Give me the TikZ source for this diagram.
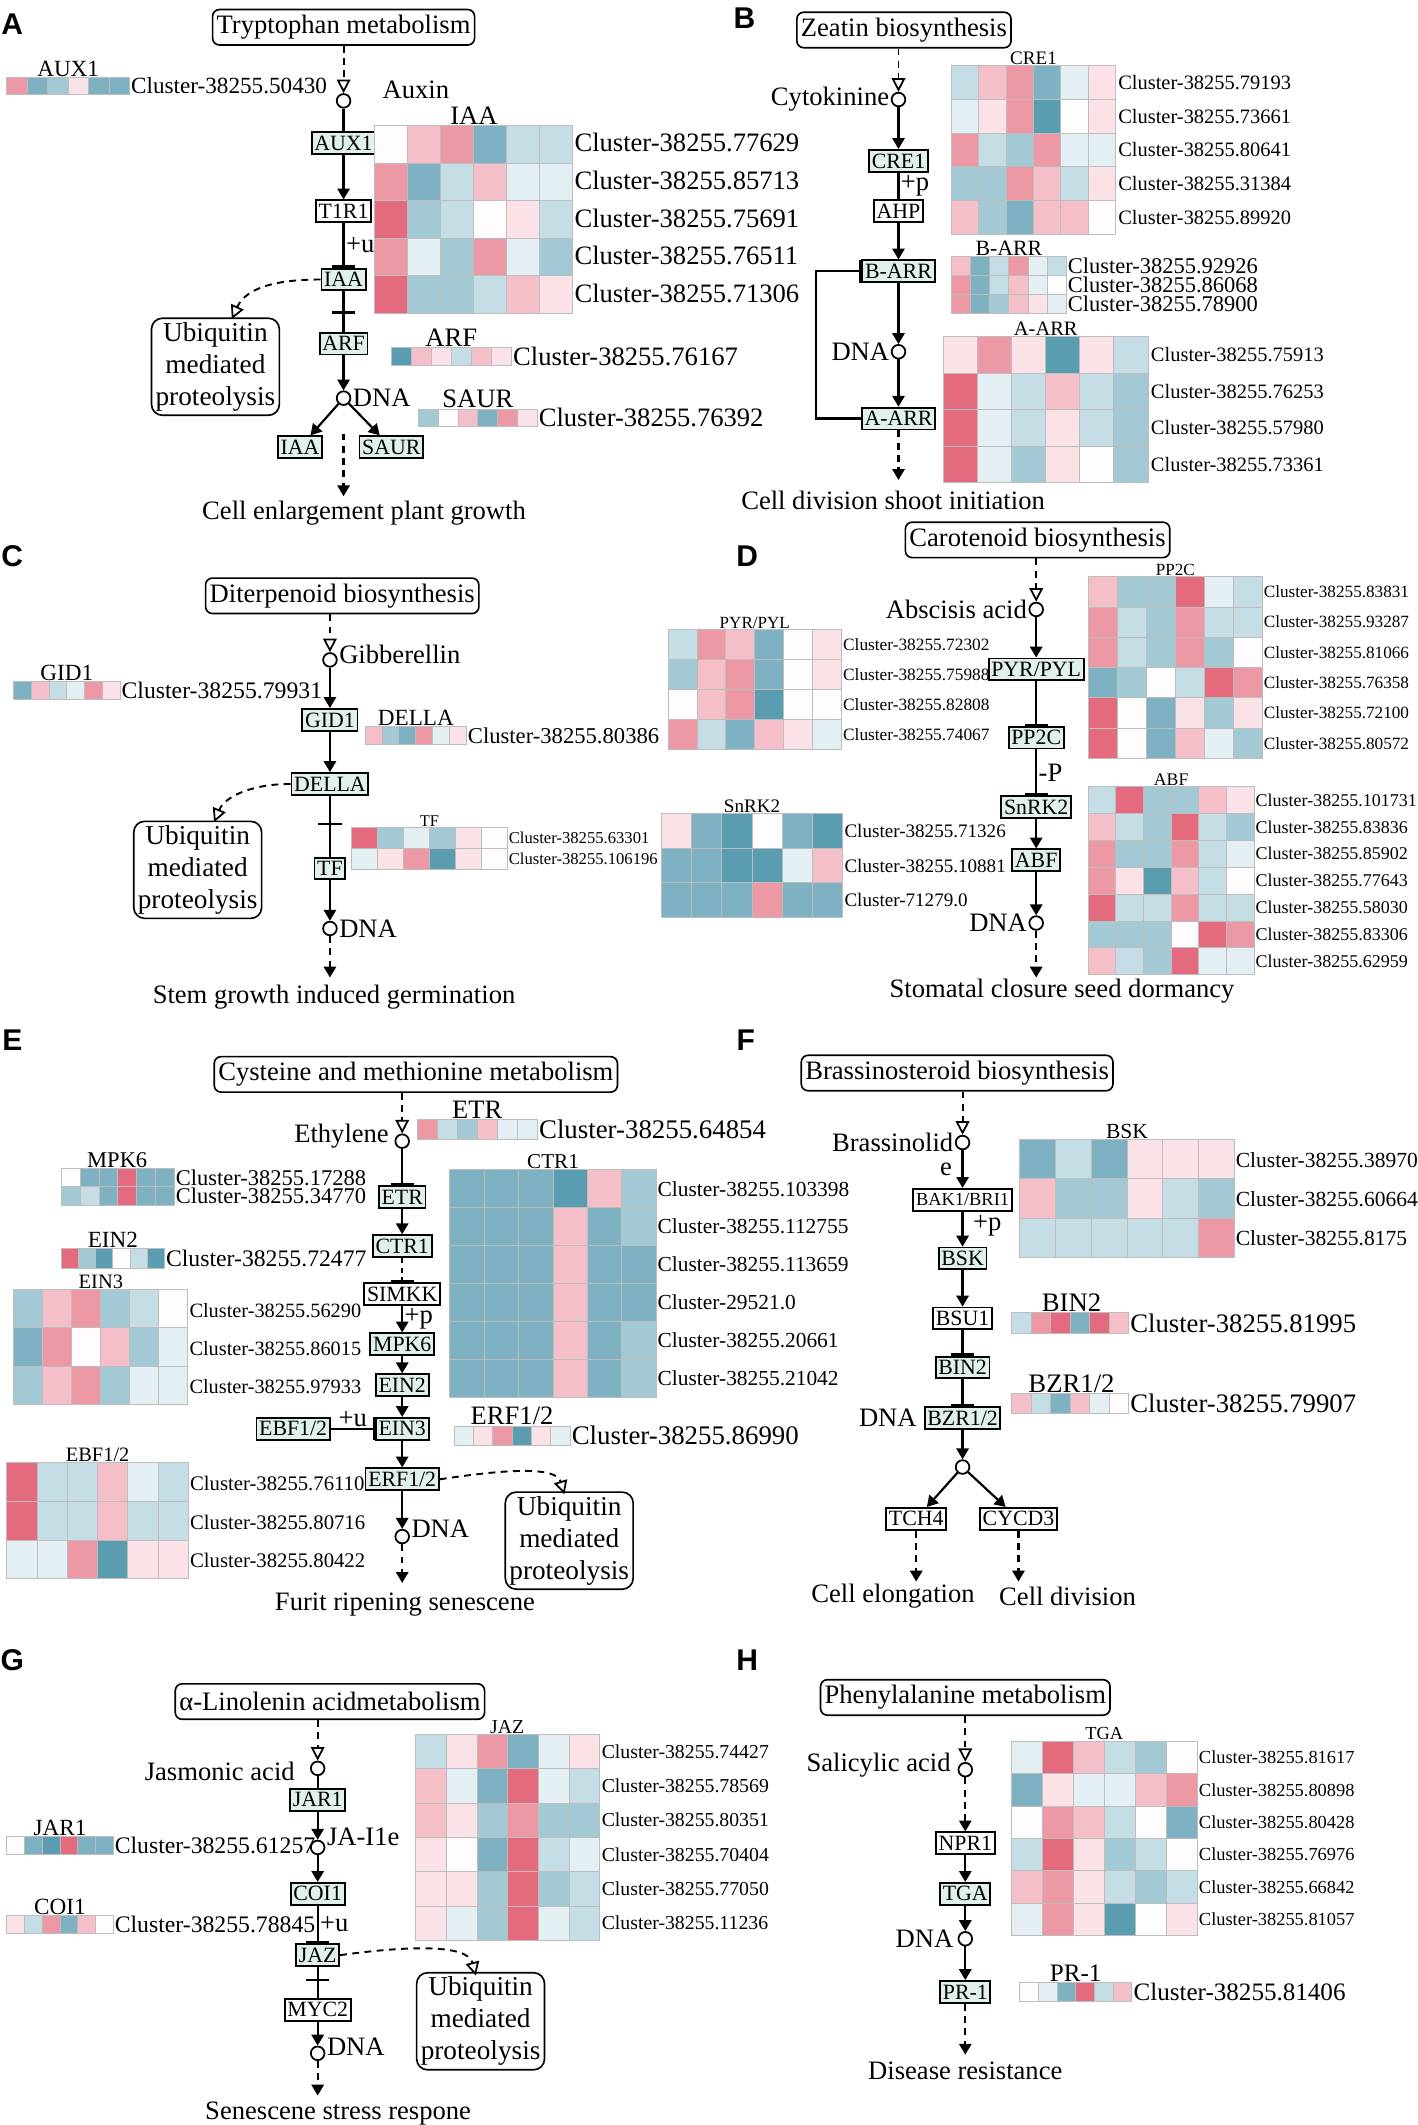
\documentclass[tikz,border=0pt]{standalone}
\usepackage{fontspec}
\setmainfont{Liberation Serif}
\newfontfamily\panelfont{Liberation Sans}
\usetikzlibrary{arrows.meta,positioning,calc}
\definecolor{mint}{HTML}{DFF1EA}
\definecolor{r3}{HTML}{E36B7D}
\definecolor{r2}{HTML}{EC98A5}
\definecolor{r1}{HTML}{F4BFC9}
\definecolor{r0}{HTML}{FBE2E7}
\definecolor{wh}{HTML}{FEFCFC}
\definecolor{b0}{HTML}{E3EFF3}
\definecolor{b1}{HTML}{C5DDE4}
\definecolor{b2}{HTML}{A3C9D4}
\definecolor{b3}{HTML}{7EB2C2}
\definecolor{b4}{HTML}{5A9CB0}
\definecolor{cellline}{HTML}{BDBDBD}
\newcommand\fs[1]{\fontsize{#1}{#1}\selectfont}
% one heatmap: x, y (top left), cell width, cell height, rows of colours
\newcommand\heatmap[5]{%
  \foreach \hrow [count=\j from 0] in {#5} {%
    \foreach \hc [count=\i from 0] in \hrow {%
      \path[hcell, fill=\hc] ({#1+\i*#3},{#2+\j*#4}) rectangle ++(#3,#4);
    }%
  }%
}
% cluster names beside a heatmap: x, y of first row, row step, size, name, ids
\newcommand\clusters[6]{%
  \foreach \id [count=\k] in {#6}
    \node[clab, font=\fs{#4}] (#5\k) at ({#1},{#2+(\k-1)*#3}) {Cluster-\id};
}
\tikzset{
  gene/.style={draw, line width=1.4pt, fill=mint, font=\fs{16}, inner xsep=2pt, inner ysep=0.5pt, minimum height=16pt},
  genew/.style={gene, fill=white},
  pathway/.style={draw, rounded corners=5pt, line width=1.2pt, font=\fs{19.5}, inner xsep=3pt, minimum height=26pt},
  ubq/.style={draw, rounded corners=8pt, line width=1.2pt, align=center, font=\fontsize{20}{23.5}\selectfont, inner sep=3pt},
  met/.style={circle, draw, line width=1.3pt, minimum size=10pt, inner sep=0pt, fill=white},
  link/.style={line width=1.6pt},
  actarr/.style={link, -{Triangle[length=8pt,width=9pt]}},
  inharr/.style={link, -{Bar[width=17pt,line width=1.6pt]}},
  flowarr/.style={link, dash pattern=on 5pt off 4pt, -{Triangle[length=8pt,width=9pt]}},
  feedarr/.style={line width=1.4pt, dash pattern=on 5pt off 4pt, -{Triangle[open,length=10pt,width=10pt,line width=1.3pt]}},
  hcell/.style={draw=cellline, line width=0.7pt},
  clab/.style={anchor=west, inner sep=1pt},
  hlab/.style={anchor=south, inner sep=0.5pt},
  txt/.style={font=\fs{19.5}, inner sep=1pt},
  panel/.style={font=\panelfont\bfseries\fs{22}, inner sep=0pt}
}
\begin{document}
\begin{tikzpicture}[x=1pt, y=-1pt]
\useasboundingbox (0,0) rectangle (1040,1558.6);
\fill[white] (0,0) rectangle (1040,1558.6);

% A
\node[panel] (labA) at (9,18) {A};
\node[pathway] (trp) at (252,20) {Tryptophan metabolism};
\node[met] (auxin) at (252,74) {};
\node[txt] (auxinl) at (305,66) {Auxin};
\node[gene] (aux1) at (252,105) {AUX1};
\node[genew] (tir1) at (252,155) {T1R1};
\node[gene] (iaa) at (252,205) {IAA};
\coordinate (cutA) at (252,230);
\node[gene] (arf) at (252,252) {ARF};
\node[met] (dnaA) at (252,292) {};
\node[txt, right=0pt of dnaA] (dnaAl) {DNA};
\node[gene] (iaa2) at (220,328) {IAA};
\node[gene] (saur) at (287,328) {SAUR};
\coordinate (startA) at (252,318);
\coordinate (endA) at (252,364);
\node[txt] (outA) at (267,376) {Cell enlargement plant growth};
\node[ubq] (ubA) at (158,269) {Ubiquitin\\mediated\\proteolysis};
\draw[feedarr] (trp) -- (auxin);
\draw[link] (auxin) -- (aux1);
\draw[actarr] (aux1) -- (tir1);
\draw[inharr] (tir1) -- (iaa) node[txt, midway, right] (uA) {+u};
\draw[inharr] (iaa) -- (cutA);
\draw[link] (cutA) -- (arf);
\draw[actarr] (arf) -- (dnaA);
\draw[actarr] (dnaA) -- (iaa2);
\draw[actarr] (dnaA) -- (saur);
\draw[flowarr] (startA) -- (endA);
\draw[feedarr] (iaa.west) .. controls (200,205) and (180,212) .. (170,234);
\heatmap{5}{57}{15}{12}{{r2,b3,b2,r0,b3,b3}}
\node[hlab, font=\fs{17}] (tAUX1) at (50,57) {AUX1};
\node[clab, font=\fs{17}] (cAUX1) at (95,63) {Cluster-38255.50430};
\heatmap{275}{92}{24.2}{27.6}{{wh,r1,r2,b3,b1,b1},{r2,b3,b1,r1,b0,b0},{r3,b2,b1,wh,r0,b1},{r2,b0,b2,r2,b0,b2},{r3,b2,b2,b1,r1,r0}}
\node[hlab, font=\fs{19.5}] (tIAA) at (347.6,92) {IAA};
\clusters{420.2}{104.8}{27.6}{19.5}{cIAA}{38255.77629,38255.85713,38255.75691,38255.76511,38255.71306}
\heatmap{287}{255}{14.7}{13}{{b4,r1,r0,b1,r1,r0}}
\node[hlab, font=\fs{19.5}] (tARF) at (331,255) {ARF};
\node[clab, font=\fs{19.5}] (cARF) at (375.2,261.5) {Cluster-38255.76167};
\heatmap{307}{300}{14.5}{13}{{b2,wh,r1,b3,r2,r0}}
\node[hlab, font=\fs{19.5}] (tSAUR) at (350.5,300) {SAUR};
\node[clab, font=\fs{19.5}] (cSAUR) at (394,306.5) {Cluster-38255.76392};

% B
\node[panel] (labB) at (546,13) {B};
\node[pathway] (zea) at (663,22) {Zeatin biosynthesis};
\node[met] (cyto) at (659,73) {};
\node[txt, left=0pt of cyto] (cytol) {Cytokinine};
\node[gene] (cre1) at (659,118) {CRE1};
\node[genew] (ahp) at (659,155) {AHP};
\node[gene] (barr) at (659,199) {B-ARR};
\node[met] (dnaB) at (659,258) {};
\node[txt, left=0pt of dnaB] (dnaBl) {DNA};
\node[gene] (aarr) at (659,307) {A-ARR};
\coordinate (endB) at (659,352);
\node[txt] (outB) at (655,367) {Cell division shoot initiation};
\draw[feedarr] (zea.south -| cyto) -- (cyto);
\draw[actarr] (cyto) -- (cre1);
\draw[link] (cre1) -- (ahp) node[txt, midway, right] (pB) {+p};
\draw[actarr] (ahp) -- (barr);
\draw[actarr] (barr) -- (dnaB);
\draw[actarr] (dnaB) -- (aarr);
\draw[inharr] (aarr.west) -- ++(-33,0) |- (barr.west);
\draw[flowarr] (aarr) -- (endB);
\heatmap{698}{48}{20}{24.8}{{b1,r1,r2,b3,b0,r0},{b0,r0,r2,b4,wh,r0},{r2,b1,b2,r2,b0,b0},{b2,b2,r2,r1,b1,r0},{r1,b2,b3,r1,r1,wh}}
\node[hlab, font=\fs{14}] (tCRE1) at (758,48) {CRE1};
\clusters{819}{60.4}{24.8}{15}{cCRE}{38255.79193,38255.73661,38255.80641,38255.31384,38255.89920}
\heatmap{698}{188}{14}{14}{{r1,b3,b1,r2,b0,b1},{r2,b3,b1,r1,b0,wh},{r2,b3,b2,r1,r0,b0}}
\node[hlab, font=\fs{16}] (tBARR) at (740,188) {B-ARR};
\clusters{782}{195}{14}{16.5}{cBARR}{38255.92926,38255.86068,38255.78900}
\heatmap{692}{247}{25}{26.75}{{r0,r2,r0,b4,r0,b1},{r3,b0,b1,r1,b1,b2},{r3,b0,b1,r0,b1,b2},{r3,b0,b2,r0,wh,b2}}
\node[hlab, font=\fs{15}] (tAARR) at (767,247) {A-ARR};
\clusters{843}{260.4}{26.75}{15}{cAARR}{38255.75913,38255.76253,38255.57980,38255.73361}

% C
\node[panel] (labC) at (9,408) {C};
\node[pathway] (dit) at (251,437) {Diterpenoid biosynthesis};
\node[met] (gib) at (242,484) {};
\node[txt, anchor=west] (gibl) at ([yshift=4pt]gib.east) {Gibberellin};
\node[gene] (gid1) at (242,528) {GID1};
\node[gene] (della) at (242,575) {DELLA};
\coordinate (cutC) at (242,605);
\node[gene] (tf) at (242,637) {TF};
\node[met] (dnaC) at (242,681) {};
\node[txt, right=0pt of dnaC] (dnaCl) {DNA};
\coordinate (endC) at (242,717);
\node[txt] (outC) at (245,731) {Stem growth induced germination};
\node[ubq] (ubC) at (145,638) {Ubiquitin\\mediated\\proteolysis};
\draw[feedarr] (dit.south -| gib) -- (gib);
\draw[actarr] (gib) -- (gid1);
\draw[actarr] (gid1) -- (della);
\draw[inharr] (della) -- (cutC);
\draw[link] (cutC) -- (tf);
\draw[actarr] (tf) -- (dnaC);
\draw[flowarr] (dnaC) -- (endC);
\draw[feedarr] (della.west) .. controls (185,575) and (165,584) .. (157,603);
\heatmap{10}{500}{13}{13}{{b3,r1,b1,b0,r2,r0}}
\node[hlab, font=\fs{17}] (tGID1) at (49,500) {GID1};
\node[clab, font=\fs{17.4}] (cGID1) at (88,506.5) {Cluster-38255.79931};
\heatmap{268}{533}{12.3}{13}{{r1,b2,b3,r2,b0,r0}}
\node[hlab, font=\fs{17}] (tDELLA) at (305,533) {DELLA};
\node[clab, font=\fs{16.6}] (cDELLA) at (342,539.5) {Cluster-38255.80386};
\heatmap{258}{607}{19}{15.5}{{r3,b2,b0,b2,r0,wh},{b0,r0,r2,b4,r0,wh}}
\node[hlab, font=\fs{12}] (tTF) at (315,607) {TF};
\clusters{372}{614.75}{15.5}{12.2}{cTF}{38255.63301,38255.106196}

% D
\node[panel] (labD) at (548,408) {D};
\node[pathway] (car) at (761,396) {Carotenoid biosynthesis};
\node[met] (aba) at (760,447) {};
\node[txt, left=0pt of aba] (abal) {Abscisis acid};
\node[gene] (pyr) at (760,491) {PYR/PYL};
\node[gene] (pp2c) at (760,541) {PP2C};
\node[gene] (snrk2) at (760,592) {SnRK2};
\node[gene] (abf) at (760,631) {ABF};
\node[met] (dnaD) at (760,677) {};
\node[txt, left=0pt of dnaD] (dnaDl) {DNA};
\coordinate (endD) at (760,717);
\node[txt] (outD) at (779,727) {Stomatal closure seed dormancy};
\draw[feedarr] (car.south -| aba) -- (aba);
\draw[actarr] (aba) -- (pyr);
\draw[inharr] (pyr) -- (pp2c);
\draw[inharr] (pp2c) -- (snrk2) node[txt, midway, right] (pD) {-P};
\draw[actarr] (snrk2) -- (abf);
\draw[actarr] (abf) -- (dnaD);
\draw[flowarr] (dnaD) -- (endD);
\heatmap{490}{462}{21.2}{22}{{b1,r2,r1,b3,wh,r0},{b2,r1,r2,b3,wh,r0},{wh,r1,r2,b4,wh,wh},{r2,b1,b3,r1,r0,b0}}
\node[hlab, font=\fs{12.5}] (tPYR) at (553.6,462) {PYR/PYL};
\clusters{617.2}{473}{22}{12.7}{cPYR}{38255.72302,38255.75988,38255.82808,38255.74067}
\heatmap{798}{423}{21.3}{22.2}{{r1,b2,b2,r3,b0,b1},{r2,b1,b2,r2,b1,b1},{r2,b1,b2,r2,b2,wh},{b3,b2,wh,b1,r3,r2},{r3,wh,b3,r0,b2,r0},{r3,wh,b3,r1,b0,b2}}
\node[hlab, font=\fs{12.5}] (tPP2C) at (862,423) {PP2C};
\clusters{925.8}{434.1}{22.2}{12.6}{cPP2C}{38255.83831,38255.93287,38255.81066,38255.76358,38255.72100,38255.80572}
\heatmap{485}{597}{22.2}{25.3}{{r0,b3,b4,wh,b3,b4},{b3,b3,b4,b4,b0,r1},{b3,b3,b3,r2,b3,b3}}
\node[hlab, font=\fs{14}] (tSNRK) at (551.6,597) {SnRK2};
\clusters{618.2}{609.65}{25.3}{14}{cSNRK}{38255.71326,38255.10881,71279.0}
\heatmap{798}{577}{20.3}{19.7}{{b1,r3,b2,b2,r1,r0},{r1,b1,b2,r3,b1,b2},{r2,b2,b2,r2,b1,b0},{r2,r0,b4,r1,b1,wh},{r3,b1,b1,r2,b1,b1},{b2,b2,b2,wh,r3,r2},{r1,b1,b2,r3,b0,b0}}
\node[hlab, font=\fs{13}] (tABF) at (859,577) {ABF};
\clusters{919.8}{586.85}{19.7}{13.2}{cABF}{38255.101731,38255.83836,38255.85902,38255.77643,38255.58030,38255.83306,38255.62959}

% E
\node[panel] (labE) at (9,763) {E};
\node[pathway] (cys) at (305,788) {Cysteine and methionine metabolism};
\node[met] (eth) at (295,837) {};
\node[txt, anchor=east] (ethl) at ([yshift=4pt, xshift=-3pt]eth.west) {Ethylene};
\node[gene] (etr) at (295,878) {ETR};
\node[gene] (ctr1) at (295,914) {CTR1};
\node[genew] (simkk) at (295,949) {SIMKK};
\node[gene] (mpk6) at (295,986) {MPK6};
\node[gene] (ein2) at (295,1016) {EIN2};
\node[gene] (ein3) at (295,1048) {EIN3};
\node[gene] (ebf) at (215,1048) {EBF1/2};
\node[gene] (erf) at (295,1085) {ERF1/2};
\node[met] (dnaE) at (295,1127) {};
\node[txt, anchor=west] (dnaEl) at ([yshift=6pt]dnaE.east) {DNA};
\coordinate (endE) at (295,1161);
\node[txt] (outE) at (297,1177) {Furit ripening senescene};
\node[ubq] (ubE) at (417.5,1130) {Ubiquitin\\mediated\\proteolysis};
\draw[feedarr] (cys.south -| eth) -- (eth);
\draw[inharr] (eth) -- (etr);
\draw[actarr] (etr) -- (ctr1);
\draw[inharr, dash pattern=on 4pt off 3pt] (ctr1) -- (simkk);
\draw[actarr] (simkk) -- (mpk6) node[txt, midway, right] (pE) {+p};
\draw[actarr] (mpk6) -- (ein2);
\draw[actarr] (ein2) -- (ein3);
\draw[inharr] (ebf) -- (ein3) node[txt, midway, above] (uE) {+u};
\draw[actarr] (ein3) -- (erf);
\draw[actarr] (erf) -- (dnaE);
\draw[flowarr] (dnaE) -- (endE);
\draw[feedarr] (erf.east) .. controls (375,1077) and (408,1076) .. (414,1096);
\heatmap{306}{821}{14.7}{15}{{r2,b1,b2,r1,b0,b0}}
\node[hlab, font=\fs{19.5}] (tETR) at (350,821) {ETR};
\node[clab, font=\fs{19.7}] (cETR) at (394.2,828.5) {Cluster-38255.64854};
\heatmap{45}{857}{13.8}{13.5}{{wh,b3,b3,r3,b3,b3},{b2,b1,b3,r3,b3,b3}}
\node[hlab, font=\fs{16.5}] (tMPK6) at (86,857) {MPK6};
\clusters{127.8}{863.75}{13.5}{16.5}{cMPK}{38255.17288,38255.34770}
\heatmap{45}{916}{12.6}{14}{{r3,b2,b4,wh,b1,b4}}
\node[hlab, font=\fs{17}] (tEIN2) at (82.8,916) {EIN2};
\node[clab, font=\fs{17.4}] (cEIN2) at (120.6,923) {Cluster-38255.72477};
\heatmap{10}{946}{21.3}{28}{{b2,r1,r2,b2,b1,wh},{b3,r2,wh,r1,b2,b0},{b2,r1,r2,b2,b0,b0}}
\node[hlab, font=\fs{15}] (tEIN3) at (74,946) {EIN3};
\clusters{137.8}{961}{28}{14.9}{cEIN3}{38255.56290,38255.86015,38255.97933}
\heatmap{330}{858}{25.2}{27.8}{{b3,b3,b3,b4,r1,b2},{b3,b3,b3,r1,b3,b2},{b3,b3,b3,r1,b3,b3},{b3,b3,b3,r1,b3,b3},{b3,b3,b3,r1,b3,b2},{b3,b3,b3,r1,b3,b2}}
\node[hlab, font=\fs{15.5}] (tCTR1) at (405.6,858) {CTR1};
\clusters{481.2}{871.9}{27.8}{15.7}{cCTR}{38255.103398,38255.112755,38255.113659,29521.0,38255.20661,38255.21042}
\heatmap{333}{1046}{14.2}{14}{{b0,r0,r2,b4,r0,b0}}
\node[hlab, font=\fs{19.5}] (tERF) at (375.6,1046) {ERF1/2};
\node[clab, font=\fs{19.7}] (cERF) at (418.2,1053) {Cluster-38255.86990};
\heatmap{5}{1073}{22.2}{28.3}{{r3,b1,b1,r1,b0,b1},{r3,b1,b1,r1,b1,b1},{b0,b0,r2,b4,r0,r0}}
\node[hlab, font=\fs{15}] (tEBF) at (71.6,1073) {EBF1/2};
\clusters{138.2}{1088}{28.3}{15.2}{cEBF}{38255.76110,38255.80716,38255.80422}

% F
\node[panel] (labF) at (547,763) {F};
\node[pathway] (bra) at (702,787) {Brassinosteroid biosynthesis};
\node[met] (brl) at (706,838) {};
\node[txt, left=0pt of brl] (brll) {Brassinolid};
\node[genew, font=\fs{13.5}] (bak) at (706,880) {BAK1/BRI1};
\node[gene] (bsk) at (706,923) {BSK};
\node[genew] (bsu1) at (706,967) {BSU1};
\node[gene] (bin2) at (706,1003) {BIN2};
\node[gene] (bzr) at (706,1040) {BZR1/2};
\node[txt, left=4pt of bzr] (dnaFl) {DNA};
\node[met] (nodF) at (706,1076) {};
\node[genew] (tch4) at (672,1114) {TCH4};
\node[genew] (cycd3) at (747,1114) {CYCD3};
\coordinate (endF1) at (672,1160);
\coordinate (endF2) at (747,1160);
\node[txt] (outF1) at (655,1171) {Cell elongation};
\node[txt] (outF2) at (783,1171) {Cell division};
\draw[feedarr] (bra.south -| brl) -- (brl);
\draw[actarr] (brl) -- (bak) node[txt, midway, left=6pt] (eF) {e};
\draw[actarr] (bak) -- (bsk) node[txt, pos=0.4, right=6pt] (pF) {+p};
\draw[actarr] (bsk) -- (bsu1);
\draw[inharr] (bsu1) -- (bin2);
\draw[inharr] (bin2) -- (bzr);
\draw[actarr] (bzr) -- (nodF);
\draw[actarr] (nodF) -- (tch4);
\draw[actarr] (nodF) -- (cycd3);
\draw[flowarr] (tch4) -- (endF1);
\draw[flowarr] (cycd3) -- (endF2);
\heatmap{748}{836}{26.2}{28.7}{{b3,b1,b3,r0,r0,r0},{r1,b2,b2,r0,b1,b2},{b1,b1,b1,b1,b1,r2}}
\node[hlab, font=\fs{15.8}] (tBSK) at (826.6,836) {BSK};
\clusters{905.2}{851}{28.7}{15.8}{cBSK}{38255.38970,38255.60664,38255.8175}
\heatmap{742}{963}{14.3}{15}{{b1,r2,r3,b3,r3,r1}}
\node[hlab, font=\fs{19.6}] (tBIN2) at (785.9,963) {BIN2};
\node[clab, font=\fs{19.6}] (cBIN2) at (827.8,970.5) {Cluster-38255.81995};
\heatmap{742}{1022}{14.3}{15}{{r1,b1,b3,r1,b0,wh}}
\node[hlab, font=\fs{19.6}] (tBZR) at (785.9,1022) {BZR1/2};
\node[clab, font=\fs{19.6}] (cBZR) at (827.8,1029.5) {Cluster-38255.79907};

% G
\node[panel] (labG) at (9,1218) {G};
\node[pathway] (lin) at (242,1248) {α-Linolenin acidmetabolism};
\node[met] (ja) at (233,1297) {};
\node[txt, anchor=east] (jal) at ([yshift=-2pt, xshift=-10pt]ja.west) {Jasmonic acid};
\node[gene] (jar1) at (233,1320) {JAR1};
\node[met] (jaile) at (233,1355) {};
\node[txt, anchor=west] (jailel) at ([yshift=8pt]jaile.east) {JA-I1e};
\node[gene] (coi1) at (233,1389) {COI1};
\node[gene] (jaz) at (233,1434) {JAZ};
\coordinate (cutG) at (233,1453);
\node[genew] (myc2) at (233,1474) {MYC2};
\node[met] (dnaG) at (233,1506) {};
\node[txt, anchor=west] (dnaGl) at ([yshift=5pt]dnaG.east) {DNA};
\coordinate (endG) at (233,1537);
\node[txt] (outG) at (248,1550) {Senescene stress respone};
\node[ubq] (ubG) at (352.5,1482.5) {Ubiquitin\\mediated\\proteolysis};
\draw[feedarr] (lin.south -| ja) -- (ja);
\draw[link] (ja) -- (jar1);
\draw[actarr] (jar1) -- (jaile);
\draw[actarr] (jaile) -- (coi1);
\draw[inharr] (coi1) -- (jaz) node[txt, midway, right] (uG) {+u};
\draw[inharr] (jaz) -- (cutG);
\draw[link] (cutG) -- (myc2);
\draw[actarr] (myc2) -- (dnaG);
\draw[flowarr] (dnaG) -- (endG);
\draw[feedarr] (jaz.east) .. controls (300,1427) and (343,1426) .. (349,1449);
\heatmap{305}{1272}{22.5}{25.2}{{b1,r0,r2,b3,b0,r0},{r1,b0,b3,r3,b0,b1},{r1,r0,b2,r2,b2,b2},{r0,wh,b3,r3,b1,b0},{r0,r0,b2,r3,b2,b1},{r0,b0,b2,r3,b0,b1}}
\node[hlab, font=\fs{14.5}] (tJAZ) at (372,1272) {JAZ};
\clusters{440.2}{1284.6}{25.2}{14.5}{cJAZ}{38255.74427,38255.78569,38255.80351,38255.70404,38255.77050,38255.11236}
\heatmap{5}{1347}{13}{13}{{wh,b3,b4,r3,b3,b3}}
\node[hlab, font=\fs{17}] (tJAR1) at (44,1347) {JAR1};
\node[clab, font=\fs{17.4}] (cJAR1) at (83,1353.5) {Cluster-38255.61257};
\heatmap{5}{1405}{13}{13}{{r0,b1,r2,b3,r1,wh}}
\node[hlab, font=\fs{17}] (tCOI1) at (44,1405) {COI1};
\node[clab, font=\fs{17.4}] (cCOI1) at (83,1411.5) {Cluster-38255.78845};

% H
\node[panel] (labH) at (548,1218) {H};
\node[pathway] (phe) at (708,1245) {Phenylalanine metabolism};
\node[met] (sa) at (708,1298) {};
\node[txt, anchor=east] (sal) at ([yshift=3pt, xshift=-4pt]sa.west) {Salicylic acid};
\node[genew] (npr1) at (708,1352) {NPR1};
\node[gene] (tga) at (708,1389) {TGA};
\node[met] (dnaH) at (708,1422) {};
\node[txt, left=2pt of dnaH] (dnaHl) {DNA};
\node[gene] (pr1) at (708,1461) {PR-1};
\coordinate (endH) at (708,1507);
\node[txt] (outH) at (708,1519) {Disease resistance};
\draw[feedarr] (phe.south -| sa) -- (sa);
\draw[flowarr] (sa) -- (npr1);
\draw[actarr] (npr1) -- (tga);
\draw[actarr] (tga) -- (dnaH);
\draw[actarr] (dnaH) -- (pr1);
\draw[flowarr] (pr1) -- (endH);
\heatmap{742}{1277}{22.7}{23.8}{{b0,r3,r1,b1,b2,wh},{b3,r0,b0,b0,r1,r2},{wh,r2,r1,b1,wh,b3},{b1,r3,r0,b2,b1,wh},{r1,r2,r0,b1,b2,b1},{b0,r2,r0,b4,wh,r0}}
\node[hlab, font=\fs{13.5}] (tTGA) at (810,1277) {TGA};
\clusters{878.2}{1288.9}{23.8}{13.5}{cTGA}{38255.81617,38255.80898,38255.80428,38255.76976,38255.66842,38255.81057}
\heatmap{748}{1454}{13.7}{14}{{wh,b0,b3,r3,b1,r1}}
\node[hlab, font=\fs{18.4}] (tPR1) at (789,1454) {PR-1};
\node[clab, font=\fs{18.4}] (cPR1) at (830.2,1461) {Cluster-38255.81406};
\end{tikzpicture}
\end{document}
